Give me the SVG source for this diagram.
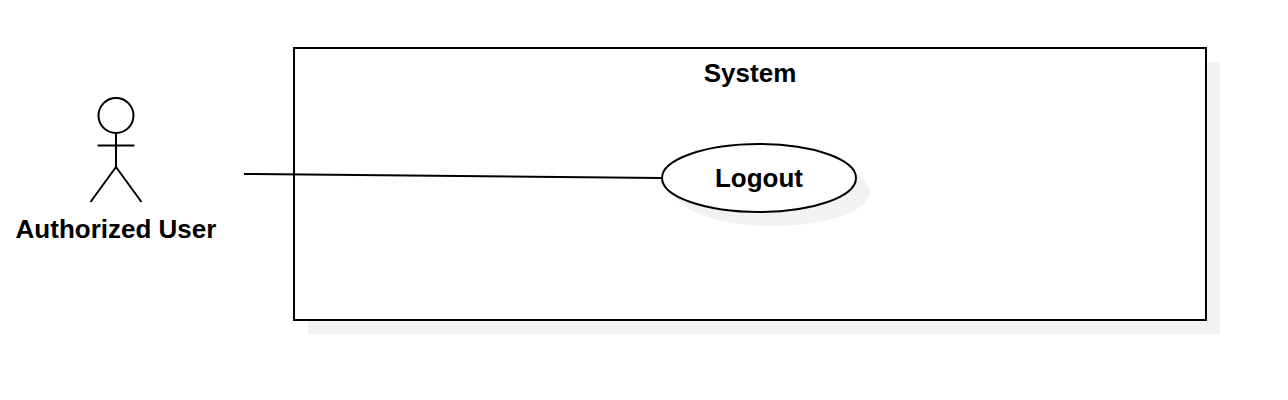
<svg xmlns="http://www.w3.org/2000/svg" width="1288" height="400" viewBox="0 0 1288 400">
<style>
text{font-family:"Liberation Sans",Arial,sans-serif;font-weight:bold;font-size:26px;fill:#000;text-anchor:middle}
.s{fill:#f2f2f2;stroke:none}
.o{fill:#fff;stroke:#000;stroke-width:2}
.l{fill:none;stroke:#000;stroke-width:2}
</style>
<rect width="1288" height="400" fill="#fff"/>
<g id="system">
<rect class="s" x="308" y="62" width="912" height="272"/>
<rect class="o" x="294" y="48" width="912" height="272"/>
<text x="750" y="82">System</text>
</g>
<g id="actor">
<circle class="o" cx="116" cy="115.500" r="17.500"/>
<path class="l" d="M116 133V167M97.500 145.500H134.500M116 167L90.500 202M116 167L141.500 202"/>
<text x="116" y="238">Authorized User</text>
</g>
<g id="logout">
<ellipse class="s" cx="773" cy="192" rx="97" ry="34"/>
<ellipse class="o" cx="759" cy="178" rx="97" ry="34"/>
<text x="759" y="187">Logout</text>
</g>
<g id="connectors">
<path class="l" d="M244 174L661 178"/>
</g>
</svg>
